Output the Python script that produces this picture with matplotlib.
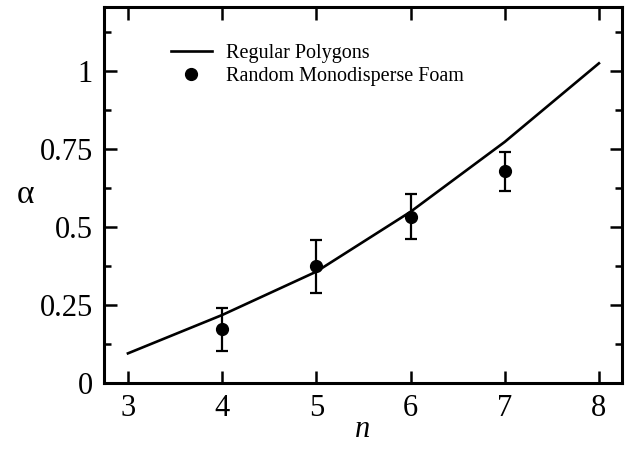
import matplotlib.pyplot as plt
from matplotlib.ticker import MultipleLocator

plt.rcParams['font.family'] = ['Liberation Serif', 'DejaVu Serif']

# regular polygons curve
n_poly = [3, 4, 5, 6, 7, 8]
alpha_poly = [0.095, 0.218, 0.357, 0.549, 0.773, 1.025]

# random monodisperse foam
n_foam = [4, 5, 6, 7]
alpha_foam = [0.172, 0.375, 0.533, 0.679]
alpha_err = [0.070, 0.085, 0.072, 0.062]

fig = plt.figure(figsize=(6.26, 4.49), dpi=100)
ax = fig.add_axes([0.166, 0.147, 0.8276, 0.837])

line, = ax.plot(n_poly, alpha_poly, color='black', lw=1.9)
eb = ax.errorbar(n_foam, alpha_foam, yerr=alpha_err, fmt='o', color='black',
                 ms=8.5, elinewidth=1.6, capsize=4, capthick=1.6)

ax.set_xlim(2.745, 8.245)
ax.set_ylim(0, 1.205)
ax.set_xticks([3, 4, 5, 6, 7, 8])
ax.set_yticks([0, 0.25, 0.5, 0.75, 1])
ax.set_yticklabels(['0', '0.25', '0.5', '0.75', '1'])
ax.yaxis.set_minor_locator(MultipleLocator(0.125))

for s in ax.spines.values():
    s.set_linewidth(2.2)
ax.tick_params(which='both', direction='in', top=True, right=True, width=1.8,
               labelsize=22)
ax.tick_params(which='major', length=9, pad=8)
ax.tick_params(which='minor', length=5)

ax.set_xlabel('n', fontsize=22, style='italic', labelpad=-6)
ax.set_ylabel('α', fontsize=24, rotation=0, va='center', labelpad=10)

leg = ax.legend([line, eb.lines[0]],
                ['Regular Polygons', 'Random Monodisperse Foam'],
                loc='upper left', bbox_to_anchor=(0.095, 0.95),
                frameon=False, fontsize=14.5, handlelength=2.0,
                handletextpad=0.7, labelspacing=0.2)

fig.savefig('out.png', dpi=100)
